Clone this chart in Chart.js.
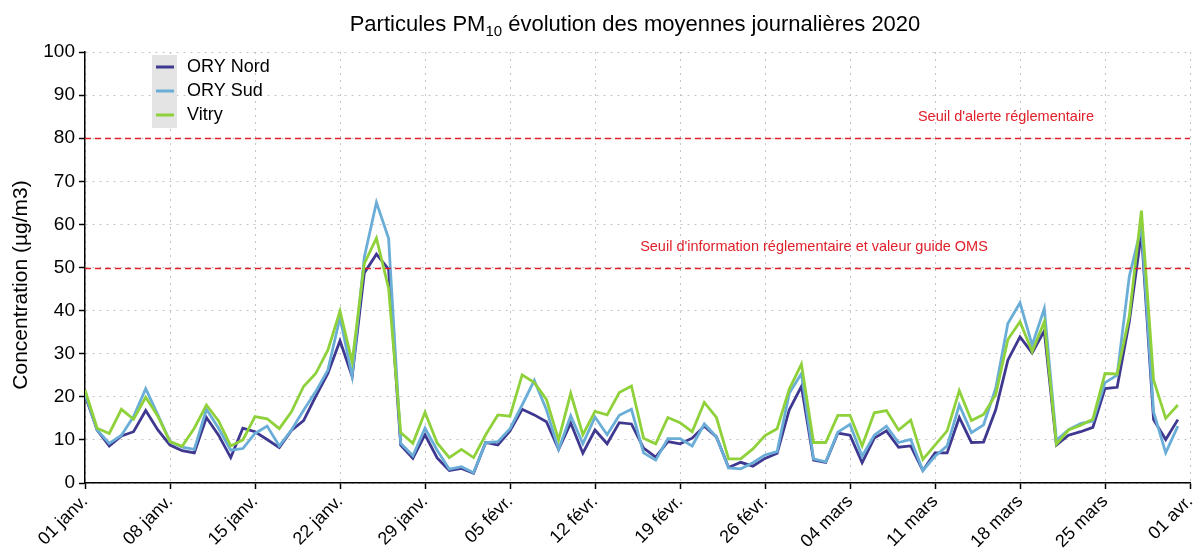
<!DOCTYPE html>
<html>
<head>
<meta charset="utf-8">
<script src="https://cdn.jsdelivr.net/npm/chart.js@4.4.1/dist/chart.umd.min.js"></script>
<style>
  html, body { margin: 0; padding: 0; background: #fff; }
  #wrap { width: 1199px; height: 553px; position: relative; }
</style>
</head>
<body>
<div id="wrap"><canvas id="pmChart"></canvas></div>
<script>
// Daily means, 01 janv. -> 31 mars 2020 (day index 0..90)
const oryNord = [
    20.4, 12.3, 8.6, 10.9, 11.9, 16.8, 12.3, 8.8, 7.5, 7.0,
    15.2, 11.1, 5.9, 12.7, 11.9, 10.1, 8.2, 12.2, 14.5, 20.1,
    25.4, 33.0, 24.7, 48.7, 53.1, 49.6, 8.8, 5.7, 11.2, 5.8,
    2.9, 3.4, 2.3, 9.4, 8.8, 12.1, 17.1, 15.8, 14.2, 7.8,
    13.9, 6.9, 12.3, 9.1, 14.0, 13.7, 8.1, 6.0, 9.6, 9.1,
    10.4, 13.2, 10.7, 3.6, 4.8, 3.9, 5.7, 6.9, 17.0, 22.4,
    5.3, 4.8, 11.6, 11.1, 4.7, 10.4, 12.1, 8.3, 8.6, 2.9,
    7.0, 7.0, 15.2, 9.4, 9.5, 17.0, 28.5, 33.9, 30.2, 35.3,
    8.8, 11.1, 11.9, 12.9, 21.9, 22.2, 37.4, 58.1, 14.7, 10.1,
    14.7
];
const orySud = [
    20.8, 12.3, 9.2, 11.1, 15.4, 21.9, 15.8, 9.6, 8.3, 7.8,
    17.1, 12.7, 7.6, 8.0, 11.5, 13.2, 8.6, 12.3, 16.9, 21.2,
    26.2, 38.4, 24.8, 52.4, 65.1, 56.8, 9.2, 6.3, 12.7, 7.6,
    3.2, 3.8, 2.4, 9.4, 9.6, 12.6, 18.1, 23.8, 17.0, 7.8,
    15.6, 9.1, 15.3, 11.2, 15.7, 17.1, 7.0, 5.3, 10.3, 10.3,
    8.6, 13.7, 10.7, 3.5, 3.3, 4.7, 6.5, 7.3, 20.8, 25.4,
    5.6, 4.9, 11.8, 13.6, 6.2, 11.1, 13.2, 9.4, 10.1, 2.9,
    6.2, 8.6, 18.1, 11.7, 13.5, 22.0, 37.0, 41.8, 32.0, 40.5,
    9.9, 12.4, 13.8, 14.4, 23.3, 25.0, 47.9, 59.5, 16.5, 7.0,
    13.2
];
const vitry = [
    21.6, 12.7, 11.5, 17.1, 14.8, 19.9, 15.5, 9.6, 8.5, 12.7,
    18.1, 14.4, 8.6, 10.0, 15.4, 14.9, 12.6, 16.5, 22.4, 25.4,
    30.8, 39.9, 28.1, 50.9, 56.8, 45.2, 11.7, 9.2, 16.4, 9.3,
    5.9, 7.8, 5.9, 11.2, 15.8, 15.5, 25.1, 23.3, 19.4, 10.0,
    20.8, 11.2, 16.6, 15.8, 21.0, 22.5, 10.4, 9.1, 15.2, 14.0,
    11.9, 18.7, 15.2, 5.6, 5.6, 7.9, 11.0, 12.6, 21.8, 27.6,
    9.4, 9.4, 15.7, 15.7, 8.6, 16.3, 16.8, 12.3, 14.6, 5.5,
    8.8, 12.1, 21.4, 14.5, 15.9, 20.5, 33.3, 37.4, 30.5, 37.4,
    9.0, 12.3, 13.4, 14.8, 25.4, 25.3, 38.6, 63.2, 23.9, 15.0,
    18.1
];

// x tick labels, one per week (day 0, 7, ..., 91)
const weekLabels = [
    '01 janv.', '08 janv.', '15 janv.', '22 janv.', '29 janv.', '05 févr.', '12 févr.',
    '19 févr.', '26 févr.', '04 mars', '11 mars', '18 mars', '25 mars', '01 avr.'
];
const seriesNames = ['ORY Nord', 'ORY Sud', 'Vitry'];
const seriesColors = ['#3f3890', '#6aaed8', '#8fd13a'];

// regulatory thresholds
const thresholdValues = [80, 50];
const thresholdLabels = ["Seuil d'alerte réglementaire", "Seuil d'information réglementaire et valeur guide OMS"];

const FONT = "'Liberation Sans', Arial, sans-serif";

function toPoints(arr) {
    return arr.map((v, i) => ({ x: i, y: v }));
}

// Title with PM10 subscript, plus the rotated y-axis title
const titlePlugin = {
    id: 'pmTitle',
    afterDraw(chart) {
        const ctx = chart.ctx;
        const a = 'Particules PM', sub = '10', b = ' évolution des moyennes journalières 2020';
        ctx.save();
        ctx.fillStyle = '#000';
        ctx.textBaseline = 'alphabetic';
        ctx.font = '22px ' + FONT;
        const wa = ctx.measureText(a).width, wb = ctx.measureText(b).width;
        ctx.font = '15px ' + FONT;
        const ws = ctx.measureText(sub).width;
        let x = 635 - (wa + ws + wb) / 2;
        const y = 31;
        ctx.font = '22px ' + FONT;
        ctx.fillText(a, x, y);
        x += wa;
        ctx.font = '15px ' + FONT;
        ctx.fillText(sub, x, y + 5);
        x += ws;
        ctx.font = '22px ' + FONT;
        ctx.fillText(b, x, y);

        // y axis title
        ctx.translate(21, 285);
        ctx.rotate(-Math.PI / 2);
        ctx.textAlign = 'center';
        ctx.textBaseline = 'middle';
        ctx.font = '21px ' + FONT;
        ctx.fillText('Concentration (µg/m3)', 0, 0);
        ctx.restore();
    }
};

// Dashed red threshold lines + labels
const thresholdPlugin = {
    id: 'thresholds',
    afterDatasetsDraw(chart) {
        const { ctx, chartArea, scales } = chart;
        ctx.save();
        ctx.strokeStyle = '#e0202a';
        ctx.lineWidth = 1.6;
        ctx.setLineDash([6, 4]);
        thresholdValues.forEach((v) => {
            const y = Math.round(scales.y.getPixelForValue(v)) + 0.5;
            ctx.beginPath();
            ctx.moveTo(chartArea.left, y);
            ctx.lineTo(chartArea.right, y);
            ctx.stroke();
        });
        ctx.setLineDash([]);
        ctx.fillStyle = '#e0202a';
        ctx.font = '14.5px ' + FONT;
        ctx.textBaseline = 'middle';
        ctx.textAlign = 'right';
        ctx.fillText(thresholdLabels[0], 1094, scales.y.getPixelForValue(thresholdValues[0]) - 21);
        ctx.textAlign = 'center';
        ctx.fillText(thresholdLabels[1], 814, scales.y.getPixelForValue(thresholdValues[1]) - 21);
        ctx.restore();
    }
};

// Legend inside the plot, top-left, grey backdrop behind line samples
const legendPlugin = {
    id: 'boxLegend',
    afterDraw(chart) {
        const ctx = chart.ctx;
        ctx.save();
        ctx.fillStyle = '#e4e4e4';
        ctx.fillRect(152, 55, 25, 73);
        ctx.font = '18px ' + FONT;
        ctx.textBaseline = 'middle';
        ctx.textAlign = 'left';
        seriesNames.forEach((name, i) => {
            const y = 67 + i * 24;
            ctx.strokeStyle = seriesColors[i];
            ctx.lineWidth = 3;
            ctx.beginPath();
            ctx.moveTo(156, y);
            ctx.lineTo(174, y);
            ctx.stroke();
            ctx.fillStyle = '#000';
            ctx.fillText(name, 187, y);
        });
        ctx.restore();
    }
};

const ctx = document.getElementById('pmChart').getContext('2d');
new Chart(ctx, {
    type: 'line',
    data: {
        datasets: [
            { label: seriesNames[0], data: toPoints(oryNord), borderColor: seriesColors[0], order: 3 },
            { label: seriesNames[1], data: toPoints(orySud), borderColor: seriesColors[1], order: 2 },
            { label: seriesNames[2], data: toPoints(vitry), borderColor: seriesColors[2], order: 1 }
        ]
    },
    options: {
        responsive: true,
        maintainAspectRatio: false,
        animation: false,
        elements: {
            line: { borderWidth: 2.8, tension: 0, fill: false },
            point: { radius: 0, hoverRadius: 0 }
        },
        layout: { padding: { top: 52, right: 9, left: 0, bottom: 0 } },
        plugins: {
            legend: { display: false },
            tooltip: { enabled: false },
            title: { display: false }
        },
        scales: {
            x: {
                type: 'linear',
                min: 0,
                max: 91,
                afterFit(scale) {
                    scale.height = 70;
                    scale.paddingRight = 0;  // last label is right-aligned on its tick
                },
                afterBuildTicks(scale) {
                    scale.ticks = weekLabels.map((_, i) => ({ value: i * 7 }));
                },
                ticks: {
                    autoSkip: false,
                    minRotation: 45,
                    maxRotation: 45,
                    color: '#000',
                    padding: 2,
                    font: { family: FONT, size: 18 },
                    callback: (v) => weekLabels[Math.round(v / 7)]
                },
                grid: {
                    color: '#c4c4c4',
                    lineWidth: 1,
                    drawTicks: true,
                    tickLength: 6,
                    tickColor: '#000',
                    tickWidth: 1.5
                },
                border: { display: true, color: '#000', width: 1.5, dash: [2, 5] }
            },
            y: {
                min: 0,
                max: 100,
                afterFit(scale) { scale.width = 85; },
                ticks: {
                    stepSize: 10,
                    color: '#000',
                    padding: 4,
                    font: { family: FONT, size: 19 }
                },
                grid: {
                    color: '#c4c4c4',
                    lineWidth: 1,
                    drawTicks: true,
                    tickLength: 6,
                    tickColor: '#000',
                    tickWidth: 1.5
                },
                border: { display: true, color: '#000', width: 1.5, dash: [2, 5] }
            }
        }
    },
    plugins: [titlePlugin, thresholdPlugin, legendPlugin]
});
</script>
</body>
</html>
